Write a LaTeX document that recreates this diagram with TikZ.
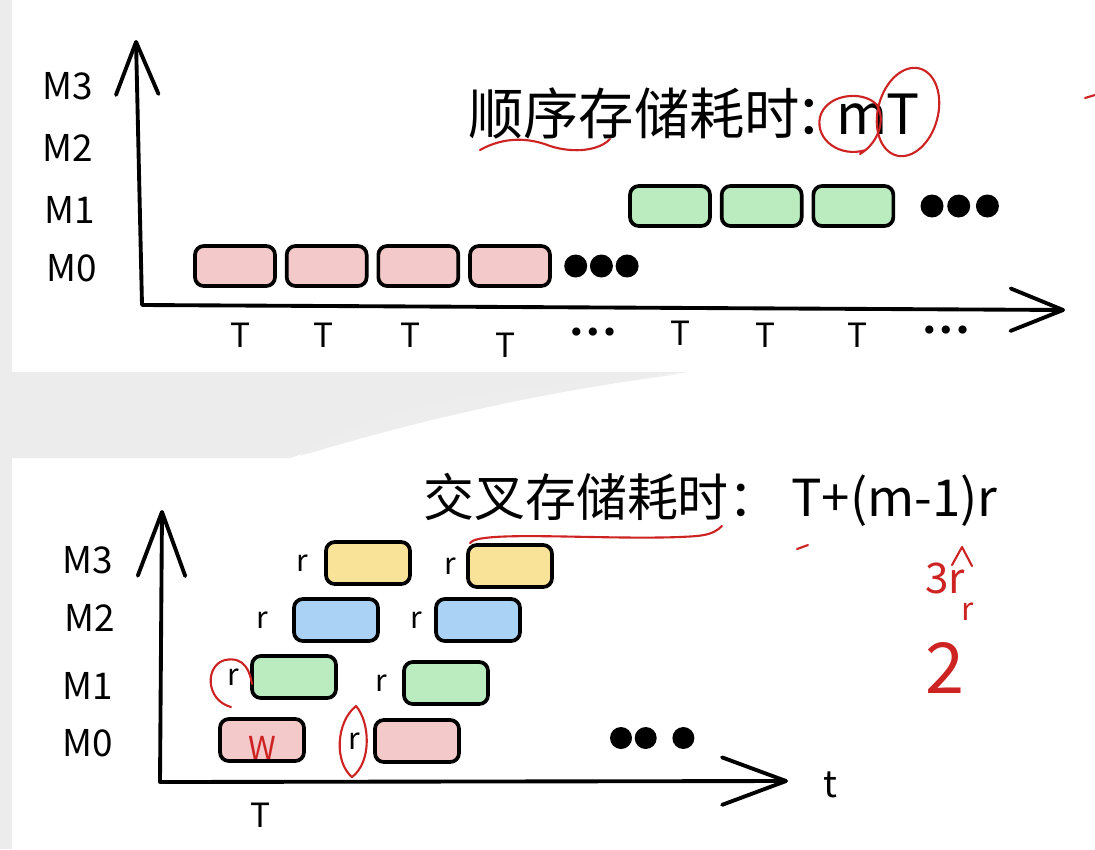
\documentclass[tikz,border=0pt]{standalone}
\usepackage{fontspec}
\usepackage{xcolor}
\usepackage{tikz}
\usetikzlibrary{arrows.meta, positioning}
\newfontfamily\cjk{Noto Sans CJK SC}
\newfontfamily\dotfont{DejaVu Sans}
\definecolor{pinkbox}{RGB}{244,201,201}
\definecolor{greenbox}{RGB}{186,236,192}
\definecolor{bluebox}{RGB}{170,210,244}
\definecolor{yellowbox}{RGB}{249,227,152}
\definecolor{penred}{RGB}{205,35,35}
\definecolor{bandgray}{RGB}{236,236,236}

\begin{document}
\begin{tikzpicture}[
  x=0.02cm, y=-0.02cm,
  node distance=0.16cm,
  box/.style={rectangle, rounded corners=5pt, draw=black, line width=2.1pt,
              minimum width=1.6cm, minimum height=0.8cm, inner sep=0pt},
  wbox/.style={box, minimum width=1.68cm, minimum height=0.84cm},
  dot/.style={circle, fill=black, inner sep=0pt, minimum size=0.46cm},
  axis/.style={line width=2.2pt, line cap=round, line join=round},
  mlab/.style={font=\cjk\fontsize{21}{21}\selectfont},
  tlab/.style={font=\cjk\fontsize{19}{19}\selectfont},
  rlab/.style={font=\cjk\fontsize{17}{17}\selectfont},
  tdots/.style={font=\dotfont\fontsize{16}{16}\selectfont},
  title/.style={font=\cjk\fontsize{31.5}{31.5}\selectfont},
  pen/.style={draw=penred, line width=1.2pt, line cap=round, line join=round},
  pentext/.style={text=penred, font=\cjk\fontsize{18}{18}\selectfont}
]
  \useasboundingbox (0,0) rectangle (1095,849);
  % background
  \fill[white] (0,0) rectangle (1095,849);
  \fill[bandgray] (0,0) rectangle (12,849);
  \fill[bandgray] (0,372) -- (690,372) .. controls (560,385) and (400,420) .. (290,458) -- (0,458) -- cycle;
  \fill[gray!14] (300,456) .. controls (380,400) and (520,385) .. (680,374) .. controls (540,392) and (420,420) .. (300,456) -- cycle;

  % sequential storage
  \coordinate (o1) at (142,305);
  \coordinate (ytop1) at (136,40);
  \coordinate (xend1) at (1065,310);
  \draw[axis, {Straight Barb[length=1.05cm, width=0.85cm, round]}-{Straight Barb[length=1.05cm, width=0.85cm, round]}]
    (ytop1) -- (o1) -- (xend1);

  \node[mlab] (am3) at (68,86) {M3};
  \node[mlab] (am2) at (68,148) {M2};
  \node[mlab] (am1) at (70,210) {M1};
  \node[mlab] (am0) at (72,268) {M0};

  \node[title, anchor=west] (seqt) at (462,113) {顺序存储耗时\kern-3pt：\kern-8pt mT};

  \node[box, fill=pinkbox] (p1) at (235,266) {};
  \node[box, fill=pinkbox, right=of p1] (p2) {};
  \node[box, fill=pinkbox, right=of p2] (p3) {};
  \node[box, fill=pinkbox, right=of p3] (p4) {};
  \node[dot, right=0.24cm of p4] (pd1) {};
  \node[dot, right=0.04cm of pd1] (pd2) {};
  \node[dot, right=0.04cm of pd2] (pd3) {};

  \node[box, fill=greenbox] (g1) at (670,206) {};
  \node[box, fill=greenbox, right=of g1] (g2) {};
  \node[box, fill=greenbox, right=of g2] (g3) {};
  \node[dot, right=0.5cm of g3] (gd1) {};
  \node[dot, right=0.06cm of gd1] (gd2) {};
  \node[dot, right=0.1cm of gd2] (gd3) {};

  \node[tlab] (ta1) at (240,335) {T};
  \node[tlab] (ta2) at (323,335) {T};
  \node[tlab] (ta3) at (410,335) {T};
  \node[tlab] (ta4) at (505,345) {T};
  \node[tdots] (tda) at (593,335) {•••};
  \node[tlab] (ta5) at (680,333) {T};
  \node[tlab] (ta6) at (765,335) {T};
  \node[tlab] (ta7) at (857,335) {T};
  \node[tdots] (tdb) at (946,333) {•••};

  % interleaved storage
  \coordinate (o2) at (160,782);
  \coordinate (ytop2) at (162,510);
  \coordinate (xend2) at (788,781);
  \draw[axis, {Straight Barb[length=1.28cm, width=0.95cm, round]}-{Straight Barb[length=1.28cm, width=0.95cm, round]}]
    (ytop2) -- (o2) -- (xend2);

  \node[mlab] (bm3) at (88,560) {M3};
  \node[mlab] (bm2) at (90,618) {M2};
  \node[mlab] (bm1) at (88,686) {M1};
  \node[mlab] (bm0) at (88,743) {M0};
  \node[mlab] (tt) at (830,785) {t};
  \node[tlab] (tb) at (260,815) {T};

  \node[title, font=\cjk\fontsize{29}{29}\selectfont, anchor=west] (intt) at (417,500) {交叉存储耗时： T+(m-1)r};

  \node[wbox, fill=pinkbox] (q0a) at (262,740) {};
  \node[wbox, fill=pinkbox] (q0b) at (417,741) {};
  \node[wbox, fill=greenbox] (q1a) at (294,677) {};
  \node[wbox, fill=greenbox] (q1b) at (446,683) {};
  \node[wbox, fill=bluebox] (q2a) at (336,620) {};
  \node[wbox, fill=bluebox] (q2b) at (478,620) {};
  \node[wbox, fill=yellowbox] (q3a) at (368,563) {};
  \node[wbox, fill=yellowbox] (q3b) at (510,566) {};

  \node[rlab, left=0.14cm of q0b] (r0b) {r};
  \node[rlab, left=0.1cm of q1a] (r1a) {r};
  \node[rlab, left=0.18cm of q1b] (r1b) {r};
  \node[rlab, left=0.36cm of q2a] (r2a) {r};
  \node[rlab, left=0.12cm of q2b] (r2b) {r};
  \node[rlab, left=0.2cm of q3a] (r3a) {r};
  \node[rlab, left=0.08cm of q3b] (r3b) {r};

  \node[dot, minimum size=0.44cm] (bd1) at (621,738) {};
  \node[dot, minimum size=0.44cm, right=0.04cm of bd1] (bd2) {};
  \node[dot, minimum size=0.44cm, right=0.3cm of bd2] (bd3) {};

  % red pen notes
  \draw[pen] (480,150) .. controls (505,136) and (530,138) .. (550,146) .. controls (575,154) and (600,150) .. (610,139);
  \draw[pen] (866,150) .. controls (840,158) and (815,140) .. (820,117) .. controls (826,94) and (862,90) .. (876,104) .. controls (886,117) and (880,142) .. (860,154);
  \draw[pen, rotate around={-15:(908,112)}] (908,112) ellipse (30 and 45);
  \draw[pen] (1085,98) -- (1095,95);
  \node[pentext] (wnote) at (262,748) {W};
  \draw[pen] (231,707) .. controls (205,700) and (205,665) .. (225,660) .. controls (245,656) and (250,672) .. (252,684);
  \draw[pen] (352,777) .. controls (334,762) and (336,722) .. (356,706) .. controls (370,722) and (372,762) .. (352,777);
  \draw[pen] (470,543) .. controls (478,530) and (600,540) .. (680,537) .. controls (700,536) and (712,536) .. (722,526);
  \draw[pen] (797,549) -- (808,545);
  \node[pentext, font=\cjk\fontsize{24}{24}\selectfont] (n3r) at (945,578) {3r};
  \draw[pen] (952,565) -- (962,547) -- (972,566);
  \node[pentext] (nr) at (968,612) {r};
  \node[pentext, font=\cjk\fontsize{40}{40}\selectfont] (n2) at (945,668) {2};
\end{tikzpicture}
\end{document}
